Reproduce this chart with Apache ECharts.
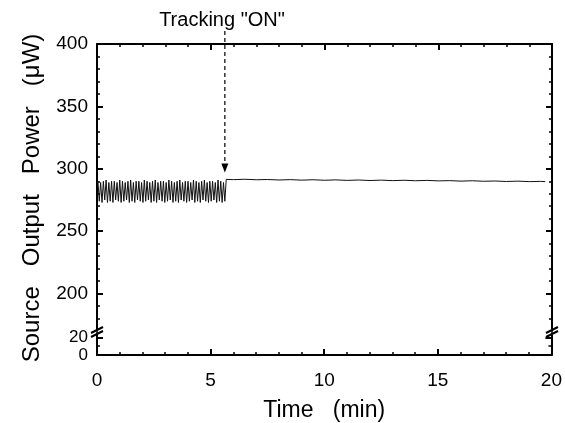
<!DOCTYPE html>
<html><head><meta charset="utf-8">
<script src="https://cdn.jsdelivr.net/npm/echarts@6/dist/echarts.min.js"></script>
<style>html,body{margin:0;padding:0;background:#fff}#c{width:565px;height:423px}</style>
</head><body><div id="c"></div>
<script>
// ---- data ----
const oscTimes = [0.04,0.10,0.16,0.22,0.28,0.34,0.40,0.46,0.52,0.58,0.64,0.70,0.76,0.82,0.88,0.94,1.00,1.06,1.12,1.18,1.24,1.30,1.36,1.42,1.48,1.54,1.60,1.66,1.72,1.78,1.84,1.90,1.96,2.02,2.08,2.14,2.20,2.26,2.32,2.38,2.44,2.50,2.56,2.62,2.68,2.74,2.80,2.86,2.92,2.98,3.04,3.10,3.16,3.22,3.28,3.34,3.40,3.46,3.52,3.58,3.64,3.70,3.76,3.82,3.88,3.94,4.00,4.06,4.12,4.18,4.24,4.30,4.36,4.42,4.48,4.54,4.60,4.66,4.72,4.78,4.84,4.90,4.96,5.02,5.08,5.14,5.20,5.26,5.32,5.38,5.44,5.50,5.56,5.62];
const oscPower = [290,274,289,273,290,275,291,273,289,274,
290,273,290,275,289,274,291,273,290,274,
289,275,290,273,291,274,289,273,290,275,
290,274,289,273,291,274,290,275,289,273,
290,274,291,273,289,275,290,274,290,273,
289,274,291,275,290,273,289,274,290,273,
291,275,289,274,290,273,290,274,289,275,
291,273,290,274,289,273,290,275,291,274,
289,273,290,274,290,275,289,273,291,274,
290,273,289,274];
const trackTimes = [5.68,6.0,6.5,7.0,7.5,8.0,8.5,9.0,9.5,10.0,10.5,11.0,11.5,12.0,12.5,13.0,13.5,14.0,14.5,15.0,15.5,16.0,16.5,17.0,17.5,18.0,18.5,19.0,19.5,19.7];
const trackPower = [291.5,291.3,291.6,291.2,291.4,291.0,291.3,290.9,291.2,290.8,291.1,290.7,291.0,290.6,290.9,290.5,290.8,290.4,290.7,290.3,290.5,290.1,290.4,290.0,290.2,289.8,290.1,289.7,289.9,289.7];
const arrowTime = 5.62;
const arrowTipValue = 297;
const xMajor = [0,5,10,15,20];
const xMinor = [1,2,3,4,6,7,8,9,11,12,13,14,16,17,18,19];
const yUpperMajor = [200,250,300,350,400];
const yUpperMinor = [180,190,210,220,230,240,260,270,280,290,310,320,330,340,360,370,380,390];
const yLowerMajor = [0,20];
const yLowerMinor = [10];
const annotationText = 'Tracking "ON"';
const xName = 'Time   (min)';
const yName = 'Source   Output   Power   (\u03bcW)';

// ---- chart ----
const FONT = '"Liberation Sans", Arial, Helvetica, sans-serif';
const chart = echarts.init(document.getElementById('c'), null, {renderer: 'canvas'});
const grids = [
  {left: 97, right: 13, top: 44, height: 287},
  {left: 97, right: 13, top: 333, height: 23}
];
function xAxis(gridIndex, position, ticks, len, showLabel, showLine, extra) {
  return Object.assign({
    type: 'value', gridIndex, position, min: 0, max: 20,
    axisLine: {show: showLine, lineStyle: {color: '#000', width: 2}},
    axisTick: {show: true, inside: true, length: len, customValues: ticks, lineStyle: {color: '#000', width: len > 4 ? 2 : 1.5}},
    axisLabel: {show: showLabel, customValues: ticks, hideOverlap: false, color: '#000', fontFamily: FONT, fontSize: 19, margin: 16},
    splitLine: {show: false}
  }, extra || {});
}
function yAxis(gridIndex, position, min, max, ticks, len, showLabel, showLine, fontSize) {
  return {
    type: 'value', gridIndex, position, min, max,
    axisLine: {show: showLine, lineStyle: {color: '#000', width: 2}},
    axisTick: {show: true, inside: true, length: len, customValues: ticks, lineStyle: {color: '#000', width: len > 4 ? 2 : 1.5}},
    axisLabel: {show: showLabel, customValues: ticks, hideOverlap: false, color: '#000', fontFamily: FONT, fontSize: fontSize || 19, margin: 9},
    splitLine: {show: false}
  };
}
const seriesData = oscTimes.map((t, i) => [t, oscPower[i]])
  .concat(trackTimes.map((t, i) => [t, trackPower[i]]));

chart.setOption({
  animation: false,
  backgroundColor: '#fff',
  grid: grids,
  xAxis: [
    xAxis(0, 'top', xMajor, 6, false, true),
    xAxis(0, 'top', xMinor, 3, false, false),
    xAxis(1, 'bottom', xMajor, 6, true, true, {
      name: xName, nameLocation: 'middle', nameGap: 44,
      nameTextStyle: {color: '#000', fontFamily: FONT, fontSize: 23}
    }),
    xAxis(1, 'bottom', xMinor, 3, false, false)
  ],
  yAxis: [
    yAxis(0, 'left', 170, 400, yUpperMajor, 6, true, true),
    yAxis(0, 'left', 170, 400, yUpperMinor, 3, false, false),
    yAxis(0, 'right', 170, 400, yUpperMajor, 6, false, true),
    yAxis(0, 'right', 170, 400, yUpperMinor, 3, false, false),
    yAxis(1, 'left', 0, 25, yLowerMajor, 6, true, true, 17),
    yAxis(1, 'left', 0, 25, yLowerMinor, 3, false, false),
    yAxis(1, 'right', 0, 25, yLowerMajor, 6, false, true),
    yAxis(1, 'right', 0, 25, yLowerMinor, 3, false, false)
  ],
  series: [{
    type: 'line', xAxisIndex: 0, yAxisIndex: 0, data: seriesData,
    showSymbol: false, symbol: 'none',
    lineStyle: {color: '#111', width: 1}
  }]
});

// annotation + decorations placed via the chart's own scales
const tip = chart.convertToPixel({xAxisIndex: 0, yAxisIndex: 0}, [arrowTime, arrowTipValue]);
const leftX = chart.convertToPixel({xAxisIndex: 0}, 0);
const rightX = chart.convertToPixel({xAxisIndex: 0}, 20);
const breakY = 332;
function breakMarks(x) {
  return [
    {type: 'rect', shape: {x: x - 3, y: breakY - 3, width: 6, height: 6}, style: {fill: '#fff'}},
    {type: 'line', shape: {x1: x - 6, y1: breakY + 1, x2: x + 6, y2: breakY - 5}, style: {stroke: '#000', lineWidth: 2}},
    {type: 'line', shape: {x1: x - 6, y1: breakY + 5, x2: x + 6, y2: breakY - 1}, style: {stroke: '#000', lineWidth: 2}}
  ];
}
chart.setOption({
  graphic: [
    {type: 'text', x: 222, y: 20, style: {text: annotationText, font: '20px ' + FONT, fill: '#000', textAlign: 'center', textVerticalAlign: 'middle'}},
    {type: 'line', shape: {x1: tip[0], y1: 31, x2: tip[0], y2: tip[1] - 7}, style: {stroke: '#000', lineWidth: 1.2, lineDash: [4, 3]}},
    {type: 'polygon', shape: {points: [[tip[0] - 3.5, tip[1] - 9], [tip[0] + 3.5, tip[1] - 9], [tip[0], tip[1]]]}, style: {fill: '#000'}},
    {type: 'text', x: 32, y: 198, rotation: Math.PI / 2, style: {text: yName, font: '24px ' + FONT, fill: '#000', textAlign: 'center', textVerticalAlign: 'middle'}}
  ].concat(breakMarks(leftX), breakMarks(rightX))
});
</script>
</body></html>
